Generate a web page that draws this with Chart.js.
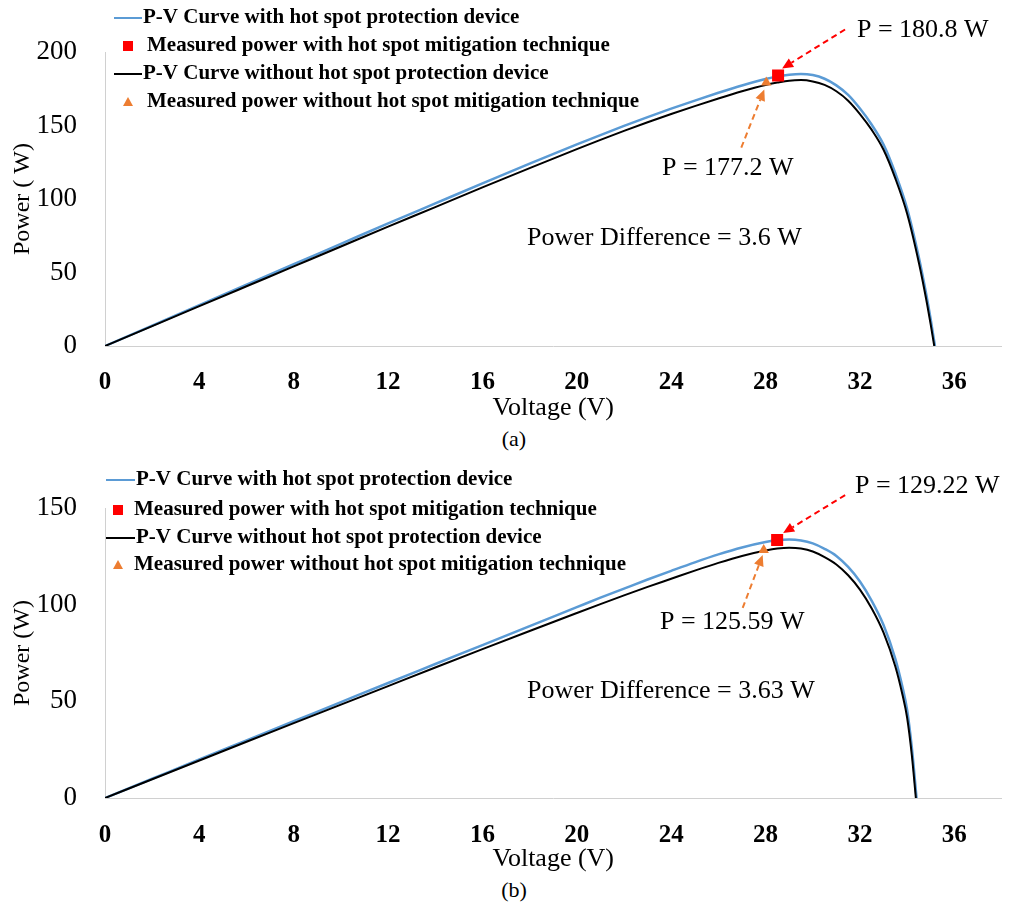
<!DOCTYPE html>
<html>
<head>
<meta charset="utf-8">
<script src="https://cdn.jsdelivr.net/npm/chart.js"></script>
<style>
  html, body { margin: 0; padding: 0; background: #fff; }
  body { width: 1010px; height: 905px; position: relative; overflow: hidden; font-family: "Liberation Serif", serif; }
  .panel { position: absolute; left: 0; width: 1010px; }
  #panelA { top: 0; height: 425px; }
  #panelB { top: 455px; height: 420px; }
  .caption { position: absolute; left: 0; width: 1028px; text-align: center; font-size: 22px; line-height: 26px; color: #000; }
</style>
</head>
<body>
<div class="panel" id="panelA"><canvas id="chartA"></canvas></div>
<div class="caption" style="top:426px">(a)</div>
<div class="panel" id="panelB"><canvas id="chartB"></canvas></div>
<div class="caption" style="top:877px">(b)</div>
<script>
// ---- data ----
const legendLabels = [
  'P-V Curve with hot spot protection device',
  'Measured power with hot spot mitigation technique',
  'P-V Curve without hot spot protection device',
  'Measured power without hot spot mitigation technique'
];

// (a)
const voltA        = [0, 2, 4, 6, 8, 10, 12, 14, 16, 18, 20, 21, 22, 23, 24, 25, 26, 27, 28, 28.5, 29, 29.5, 30, 30.5, 31, 31.5, 32, 32.5, 33, 33.5, 34, 34.5, 34.8, 35.0, 35.18];
const powerWithA   = [0, 13.9, 27.8, 41.7, 55.6, 69.5, 83.4, 97.0, 110.6, 124.0, 137.1, 143.5, 149.7, 155.7, 161.45, 166.95, 172.25, 177.25, 181.65, 183.4, 184.6, 185.1, 184.3, 181.8, 177.3, 170.8, 161.5, 150.5, 137, 117.5, 93.5, 60, 36, 18, 0];
const voltNoA      = [0, 2, 4, 6, 8, 10, 12, 14, 16, 18, 20, 21, 22, 23, 24, 25, 26, 27, 28, 28.5, 29, 29.5, 30, 30.5, 31, 31.5, 32, 32.5, 33, 33.5, 34, 34.5, 34.8, 35.0, 35.15];
const powerNoA     = [0, 13.54, 27.08, 40.62, 54.16, 67.7, 81.2, 94.5, 107.9, 121.0, 133.9, 140.2, 146.3, 152.2, 157.8, 163.2, 168.4, 173.3, 177.6, 179.2, 180.5, 180.9, 180.0, 177.6, 173.3, 166.9, 157.8, 147, 133.5, 114, 90, 56.5, 32.5, 14.5, 0];
const measWithA    = [28.53, 184.0];
const measNoA      = [28.03, 179.2];
const notesA       = ['P = 180.8 W', 'P = 177.2 W', 'Power Difference = 3.6 W'];

// (b)
const voltB        = [0, 2, 4, 6, 8, 10, 12, 14, 16, 18, 20, 21, 22, 23, 24, 25, 26, 27, 28, 28.5, 29, 29.5, 30, 30.5, 31, 31.5, 32, 32.5, 33, 33.5, 33.8, 34.0, 34.2, 34.4];
const powerWithB   = [0, 9.95, 19.9, 29.8, 39.7, 49.6, 59.5, 69.3, 79.1, 88.9, 98.7, 103.6, 108.3, 113, 117.5, 121.9, 126, 129.6, 132.4, 133.4, 133.7, 133.2, 131.7, 128.9, 125.2, 119.5, 112, 102, 89.5, 72, 57.5, 45.5, 26, 0];
const voltNoB      = [0, 2, 4, 6, 8, 10, 12, 14, 16, 18, 20, 21, 22, 23, 24, 25, 26, 27, 28, 28.5, 29, 29.5, 30, 30.5, 31, 31.5, 32, 32.5, 33, 33.5, 33.8, 34.0, 34.2, 34.37];
const powerNoB     = [0, 9.7, 19.4, 29.1, 38.7, 48.3, 57.9, 67.5, 77, 86.4, 95.7, 100.3, 104.8, 109.2, 113.4, 117.6, 121.6, 125.2, 128, 129, 129.4, 129, 127.5, 124.6, 120.8, 115.2, 107.8, 98, 85.5, 68, 53.5, 41.5, 22, 0];
const measWithB    = [28.49, 133.4];
const measNoB      = [27.92, 128.3];
const notesB       = ['P = 129.22 W', 'P = 125.59 W', 'Power Difference = 3.63 W'];

const SERIF = '"Liberation Serif", "Times New Roman", serif';
const BLUE = '#5b9bd5', RED = '#ff0000', ORANGE = '#ed7d31';

function pts(xs, ys) { return xs.map((x, i) => ({x: x, y: ys[i]})); }

function drawArrow(ctx, x1, y1, x2, y2, color) {
  const ang = Math.atan2(y2 - y1, x2 - x1);
  const head = 11, hw = 5;
  const bx = x2 - head * Math.cos(ang), by = y2 - head * Math.sin(ang);
  ctx.save();
  ctx.strokeStyle = color; ctx.fillStyle = color; ctx.lineWidth = 2;
  ctx.setLineDash([6, 4]);
  ctx.beginPath(); ctx.moveTo(x1, y1); ctx.lineTo(bx, by); ctx.stroke();
  ctx.setLineDash([]);
  ctx.beginPath();
  ctx.moveTo(x2, y2);
  ctx.lineTo(bx + hw * Math.sin(ang), by - hw * Math.cos(ang));
  ctx.lineTo(bx - hw * Math.sin(ang), by + hw * Math.cos(ang));
  ctx.closePath(); ctx.fill();
  ctx.restore();
}

// legend + notes drawn over the plot
function notesPlugin(cfg) {
  return {
    id: 'pvNotes',
    afterDraw(chart) {
      const ctx = chart.ctx;
      const sq = chart.getDatasetMeta(0).data[0];
      const tr = chart.getDatasetMeta(1).data[0];
      drawArrow(ctx, sq.x + cfg.red[2], sq.y + cfg.red[3], sq.x + cfg.red[0], sq.y + cfg.red[1], RED);
      drawArrow(ctx, tr.x + cfg.org[2], tr.y + cfg.org[3], tr.x + cfg.org[0], tr.y + cfg.org[1], ORANGE);

      ctx.save();
      ctx.fillStyle = '#000';
      ctx.textBaseline = 'middle';
      ctx.textAlign = 'left';
      ctx.font = '26px ' + SERIF;
      cfg.notes.forEach((t, i) => ctx.fillText(t, cfg.notePos[i][0], cfg.notePos[i][1]));

      // legend
      ctx.font = 'bold 21px ' + SERIF;
      const kinds = ['line', 'rect', 'line', 'tri'];
      const cols = [BLUE, RED, '#000', ORANGE];
      legendLabels.forEach((lab, i) => {
        const y = cfg.legY[i];
        if (kinds[i] === 'line') {
          ctx.strokeStyle = cols[i]; ctx.lineWidth = 2;
          ctx.beginPath(); ctx.moveTo(cfg.legX[0], y); ctx.lineTo(cfg.legX[1], y); ctx.stroke();
          ctx.fillText(lab, cfg.legX[1] + 1, y);
        } else {
          ctx.fillStyle = cols[i];
          const cx = cfg.legX[2];
          if (kinds[i] === 'rect') {
            ctx.fillRect(cx - 5, y - 5, 10, 10);
          } else {
            ctx.beginPath(); ctx.moveTo(cx, y - 5); ctx.lineTo(cx + 5, y + 4); ctx.lineTo(cx - 5, y + 4); ctx.closePath(); ctx.fill();
          }
          ctx.fillStyle = '#000';
          ctx.fillText(lab, cfg.legX[3], y);
        }
      });
      ctx.restore();
    }
  };
}

function makeChart(id, d) {
  return new Chart(document.getElementById(id), {
    type: 'scatter',
    data: {
      datasets: [
        { label: legendLabels[1], data: [{x: d.mw[0], y: d.mw[1]}], pointStyle: 'rect', pointRadius: 8.5, backgroundColor: RED, borderColor: RED, borderWidth: 0 },
        { label: legendLabels[3], data: [{x: d.mn[0], y: d.mn[1]}], pointStyle: 'triangle', pointRadius: 6, backgroundColor: ORANGE, borderColor: ORANGE, borderWidth: 0 },
        { label: legendLabels[2], data: pts(d.vn, d.pn), showLine: true, borderColor: '#000', borderWidth: 2, pointRadius: 0, cubicInterpolationMode: 'monotone' },
        { label: legendLabels[0], data: pts(d.vw, d.pw), showLine: true, borderColor: BLUE, borderWidth: 2.5, pointRadius: 0, cubicInterpolationMode: 'monotone' }
      ]
    },
    options: {
      responsive: true,
      maintainAspectRatio: false,
      animation: false,
      layout: { padding: { top: d.top, right: 6, left: 0, bottom: 0 } },
      plugins: { legend: { display: false }, tooltip: { enabled: false } },
      scales: {
        x: {
          type: 'linear', min: 0, max: 38,
          grid: { display: false },
          border: { display: true, color: '#d0d0d0', width: 1 },
          ticks: { stepSize: 4, includeBounds: false, padding: d.xPad, maxRotation: 0, autoSkip: false, color: '#000',
                   font: { family: SERIF, size: 25, weight: 'bold' } },
          title: { display: true, text: 'Voltage (V)', color: '#000', font: { family: SERIF, size: 26 }, padding: { top: 0, bottom: d.tPad } },
          afterFit: s => { s.height = d.xH; }
        },
        y: {
          min: 0, max: d.yMax,
          grid: { display: false },
          border: { display: true, color: '#d0d0d0', width: 1 },
          ticks: { stepSize: 50, padding: 20, color: '#000', font: { family: SERIF, size: 27 } },
          title: { display: true, text: d.yTitle, color: '#000', font: { family: SERIF, size: 24 }, padding: { top: 8, bottom: 0 } },
          afterFit: s => { s.width = 105; }
        }
      }
    },
    plugins: [notesPlugin(d.cfg)]
  });
}

makeChart('chartA', {
  vw: voltA, pw: powerWithA, vn: voltNoA, pn: powerNoA, mw: measWithA, mn: measNoA,
  yMax: 200, yTitle: 'Power ( W)', top: 52, xH: 79, xPad: 14, tPad: 1,
  cfg: {
    notes: notesA,
    notePos: [[857, 30], [662, 168], [527, 238]],
    red: [4, -7, 67, -46], org: [-2, 7, -25, 65],
    legY: [18, 46, 74, 102],
    legX: [114, 142, 128, 147]
  }
});

makeChart('chartB', {
  vw: voltB, pw: powerWithB, vn: voltNoB, pn: powerNoB, mw: measWithB, mn: measNoB,
  yMax: 150, yTitle: 'Power (W)', top: 53, xH: 77, xPad: 15, tPad: 0,
  cfg: {
    notes: notesB,
    notePos: [[855, 31], [660, 167], [527, 236]],
    red: [6, -7, 68, -45], org: [-1, 5, -21, 58],
    legY: [25, 55, 83, 110],
    legX: [106, 135, 118, 134]
  }
});
</script>
</body>
</html>
